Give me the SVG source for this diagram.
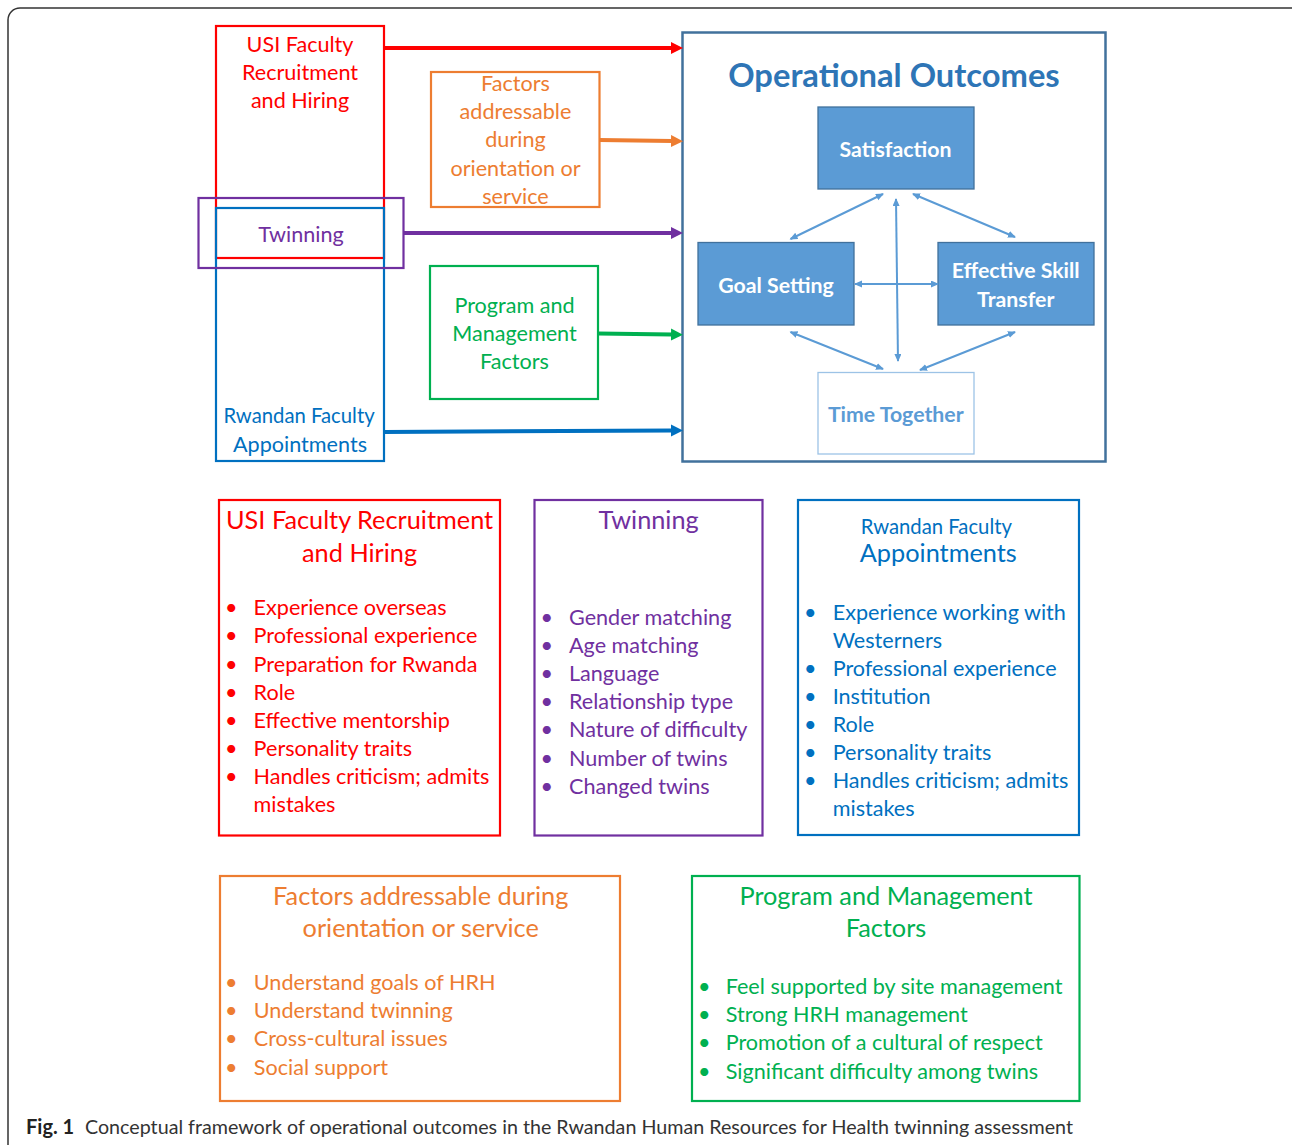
<svg xmlns="http://www.w3.org/2000/svg" width="1292" height="1145" viewBox="0 0 1292 1145">
<style>
text{font-family:Lato,"Open Sans","Liberation Sans",sans-serif}
.c{text-anchor:middle}
.r{fill:#FF0000}.o{fill:#ED7D31}.p{fill:#7030A0}.g{fill:#00B050}.b{fill:#0070C0}
.f17{font-size:21.6px}
.f16{font-size:20.3px}
.f20{font-size:25.3px}
.box{fill:none;stroke-width:2.2}
.node{fill:#5B9BD5;stroke:#41719C;stroke-width:1.3}
.nt{fill:#fff;font-weight:bold;font-size:21.3px;text-anchor:middle}
.lnk{stroke:#5B9BD5;stroke-width:2;fill:none;marker-start:url(#sa);marker-end:url(#sa)}
.arr{fill:none;stroke-width:4}
</style>
<defs>
<marker id="ar" markerUnits="userSpaceOnUse" markerWidth="13" markerHeight="13" refX="1" refY="6" orient="auto"><path d="M0,0 L12,6 L0,12 z" fill="#FF0000"/></marker>
<marker id="ao" markerUnits="userSpaceOnUse" markerWidth="13" markerHeight="13" refX="1" refY="6" orient="auto"><path d="M0,0 L12,6 L0,12 z" fill="#ED7D31"/></marker>
<marker id="ap" markerUnits="userSpaceOnUse" markerWidth="13" markerHeight="13" refX="1" refY="6" orient="auto"><path d="M0,0 L12,6 L0,12 z" fill="#7030A0"/></marker>
<marker id="ag" markerUnits="userSpaceOnUse" markerWidth="13" markerHeight="13" refX="1" refY="6" orient="auto"><path d="M0,0 L12,6 L0,12 z" fill="#00B050"/></marker>
<marker id="ab" markerUnits="userSpaceOnUse" markerWidth="13" markerHeight="13" refX="1" refY="6" orient="auto"><path d="M0,0 L12,6 L0,12 z" fill="#0070C0"/></marker>
<marker id="sa" markerUnits="userSpaceOnUse" markerWidth="9" markerHeight="8" refX="7" refY="3.5" orient="auto-start-reverse"><path d="M0,0 L8,3.5 L0,7 z" fill="#5B9BD5"/></marker>
</defs>

<rect x="8" y="8" width="1300" height="1160" rx="12" fill="#fff" stroke="#333" stroke-width="1.5"/>

<g id="usi-top">
<rect class="box" x="216" y="26" width="168" height="232" stroke="#FF0000"/>
<text class="c r f17" x="300" y="52">USI Faculty</text>
<text class="c r f17" x="300" y="80">Recruitment</text>
<text class="c r f17" x="300" y="108">and Hiring</text>
</g>
<g id="rwandan-top">
<rect class="box" x="216" y="208" width="168" height="253" stroke="#0070C0"/>
<text class="c b f16" x="299" y="423">Rwandan Faculty</text>
<text class="c b f17" x="300" y="451.5">Appointments</text>
</g>
<g id="twinning-top">
<rect class="box" x="198.5" y="198" width="205" height="70" stroke="#7030A0"/>
<text class="c p f17" x="301" y="241.5">Twinning</text>
</g>
<g id="factors-top">
<rect class="box" x="431" y="72" width="168.5" height="135" stroke="#ED7D31"/>
<text class="c o f17" x="515.5" y="90.5">Factors</text>
<text class="c o f17" x="515.5" y="119">addressable</text>
<text class="c o f17" x="515.5" y="147">during</text>
<text class="c o f17" x="515.5" y="175.5">orientation or</text>
<text class="c o f17" x="515.5" y="203.5">service</text>
</g>
<g id="program-top">
<rect class="box" x="430" y="266" width="168" height="133" stroke="#00B050"/>
<text class="c g f17" x="514.5" y="312.5">Program and</text>
<text class="c g f17" x="514.5" y="341">Management</text>
<text class="c g f17" x="514.5" y="368.5">Factors</text>
</g>

<g id="operational-outcomes">
<rect x="682.5" y="32.5" width="423" height="429" fill="none" stroke="#41719C" stroke-width="2.5"/>
<text class="c" x="894" y="87" font-size="32.7" font-weight="bold" fill="#2E75B6">Operational Outcomes</text>
</g>
<g id="satisfaction">
<rect class="node" x="818" y="107" width="156" height="82"/>
<text class="nt" x="895.5" y="157">Satisfaction</text>
</g>
<g id="goal-setting">
<rect class="node" x="698" y="242.5" width="156" height="82.5"/>
<text class="nt" x="776" y="292.5">Goal Setting</text>
</g>
<g id="skill-transfer">
<rect class="node" x="938" y="242.5" width="156" height="82.5"/>
<text class="nt" x="1015.7" y="278.3">Effective Skill</text>
<text class="nt" x="1015.7" y="306.5">Transfer</text>
</g>
<g id="time-together">
<rect x="818" y="372.5" width="156" height="81.5" fill="#fff" stroke="#9DC3E6" stroke-width="1.3"/>
<text class="nt" x="895.8" y="422.3" style="fill:#5B9BD5">Time Together</text>
</g>

<g id="connectors">
<line class="arr" x1="384" y1="48" x2="672" y2="48" stroke="#FF0000" marker-end="url(#ar)"/>
<line class="arr" x1="599.5" y1="140" x2="672" y2="141" stroke="#ED7D31" marker-end="url(#ao)"/>
<line class="arr" x1="403.5" y1="233" x2="672" y2="233" stroke="#7030A0" marker-end="url(#ap)"/>
<line class="arr" x1="598" y1="333.5" x2="672" y2="334.5" stroke="#00B050" marker-end="url(#ag)"/>
<line class="arr" x1="384" y1="432" x2="672" y2="430.5" stroke="#0070C0" marker-end="url(#ab)"/>
<line class="lnk" x1="883" y1="194" x2="790.5" y2="239"/>
<line class="lnk" x1="913" y1="194" x2="1015" y2="237"/>
<line class="lnk" x1="896" y1="199" x2="898" y2="361"/>
<line class="lnk" x1="855" y1="284" x2="938" y2="284"/>
<line class="lnk" x1="790.5" y1="332" x2="883" y2="369"/>
<line class="lnk" x1="1015" y1="332" x2="920" y2="370"/>
</g>

<g id="usi-detail">
<rect class="box" x="219" y="500" width="281" height="335.5" stroke="#FF0000"/>
<text class="c r f20" x="359.6" y="529.3">USI Faculty Recruitment</text>
<text class="c r f20" x="359.6" y="561.7">and Hiring</text>
<g class="r f17">
<text x="225" y="615.3">•</text><text x="253.6" y="615.3">Experience overseas</text>
<text x="225" y="643.4">•</text><text x="253.6" y="643.4">Professional experience</text>
<text x="225" y="671.5">•</text><text x="253.6" y="671.5">Preparation for Rwanda</text>
<text x="225" y="699.5">•</text><text x="253.6" y="699.5">Role</text>
<text x="225" y="727.6">•</text><text x="253.6" y="727.6">Effective mentorship</text>
<text x="225" y="755.7">•</text><text x="253.6" y="755.7">Personality traits</text>
<text x="225" y="783.8">•</text><text x="253.6" y="783.8">Handles criticism; admits</text>
<text x="253.6" y="811.8">mistakes</text>
</g>
</g>

<g id="twinning-detail">
<rect class="box" x="534.5" y="500" width="228" height="335.5" stroke="#7030A0"/>
<text class="c p f20" x="648.6" y="529.3">Twinning</text>
<g class="p f17">
<text x="540.5" y="625">•</text><text x="569" y="625">Gender matching</text>
<text x="540.5" y="653.1">•</text><text x="569" y="653.1">Age matching</text>
<text x="540.5" y="681.2">•</text><text x="569" y="681.2">Language</text>
<text x="540.5" y="709.3">•</text><text x="569" y="709.3">Relationship type</text>
<text x="540.5" y="737.4">•</text><text x="569" y="737.4">Nature of difficulty</text>
<text x="540.5" y="765.5">•</text><text x="569" y="765.5">Number of twins</text>
<text x="540.5" y="793.6">•</text><text x="569" y="793.6">Changed twins</text>
</g>
</g>

<g id="rwandan-detail">
<rect class="box" x="798" y="500" width="281" height="335" stroke="#0070C0"/>
<text class="c b f16" x="936.3" y="534">Rwandan Faculty</text>
<text class="c b f20" x="938.3" y="562">Appointments</text>
<g class="b f17">
<text x="804" y="620">•</text><text x="832.7" y="620">Experience working with</text>
<text x="832.7" y="648">Westerners</text>
<text x="804" y="676">•</text><text x="832.7" y="676">Professional experience</text>
<text x="804" y="704">•</text><text x="832.7" y="704">Institution</text>
<text x="804" y="732">•</text><text x="832.7" y="732">Role</text>
<text x="804" y="760">•</text><text x="832.7" y="760">Personality traits</text>
<text x="804" y="788">•</text><text x="832.7" y="788">Handles criticism; admits</text>
<text x="832.7" y="816">mistakes</text>
</g>
</g>

<g id="factors-detail">
<rect class="box" x="220" y="876" width="400" height="225" stroke="#ED7D31"/>
<text class="c o f20" x="420.7" y="905">Factors addressable during</text>
<text class="c o f20" x="420.7" y="937">orientation or service</text>
<g class="o f17">
<text x="225" y="990">•</text><text x="253.8" y="990">Understand goals of HRH</text>
<text x="225" y="1018.2">•</text><text x="253.8" y="1018.2">Understand twinning</text>
<text x="225" y="1046.4">•</text><text x="253.8" y="1046.4">Cross-cultural issues</text>
<text x="225" y="1074.6">•</text><text x="253.8" y="1074.6">Social support</text>
</g>
</g>

<g id="program-detail">
<rect class="box" x="692" y="876" width="387.5" height="225" stroke="#00B050"/>
<text class="c g f20" x="886" y="905">Program and Management</text>
<text class="c g f20" x="886" y="937">Factors</text>
<g class="g f17">
<text x="698" y="994">•</text><text x="725.7" y="994">Feel supported by site management</text>
<text x="698" y="1022.2">•</text><text x="725.7" y="1022.2">Strong HRH management</text>
<text x="698" y="1050.4">•</text><text x="725.7" y="1050.4">Promotion of a cultural of respect</text>
<text x="698" y="1078.6">•</text><text x="725.7" y="1078.6">Significant difficulty among twins</text>
</g>
</g>

<g id="caption">
<text x="26" y="1134" font-size="20" font-weight="bold" fill="#222">Fig. 1</text>
<text x="85" y="1134" font-size="20" fill="#333" textLength="988" lengthAdjust="spacingAndGlyphs">Conceptual framework of operational outcomes in the Rwandan Human Resources for Health twinning assessment</text>
</g>
</svg>
